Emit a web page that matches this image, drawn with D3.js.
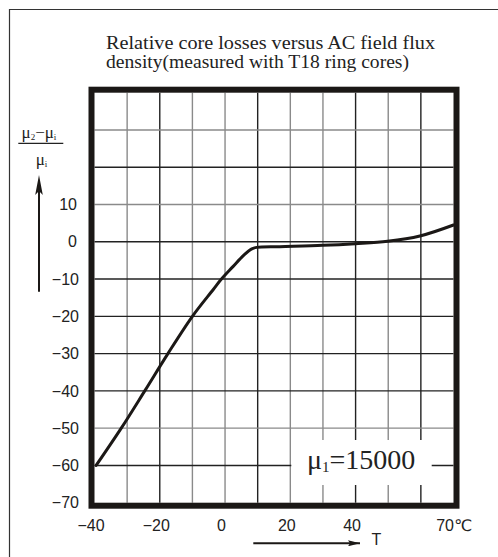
<!DOCTYPE html>
<html>
<head>
<meta charset="utf-8">
<script src="https://cdn.jsdelivr.net/npm/d3@7"></script>
<style>
  html, body { margin: 0; padding: 0; background: #fff; }
  svg { display: block; }
</style>
</head>
<body>
<svg id="chart" width="498" height="557"></svg>
<script>
// ---- data ----
const titleLines = ["Relative core losses versus AC field flux", "density(measured with T18 ring cores)"];
const xTicks = [-40, -20, 0, 20, 40, 70];
const yTicks = [10, 0, -10, -20, -30, -40, -50, -60, -70];
const xGridValues = [-30, -20, -10, 0, 10, 20, 30, 40, 50, 60];
const yGridValues = [30, 20, 10, 0, -10, -20, -30, -40, -50, -60];
const tempC =      [-39.5, -31.8, -24.6, -17.5, -10.0, -3.6, -1.3, 2.5, 5.6, 8.2, 9.7, 16.8, 29.9, 39.9, 49.8, 59.7, 70.0];
const relChange =  [-60.0, -50.0, -40.0, -30.0, -20.0, -12.8, -10.2, -6.6, -3.7, -1.9, -1.5, -1.3, -0.95, -0.5, 0.13, 1.55, 4.5];
const mu1Value = "15000";

// ---- chart ----
const svg = d3.select("#chart");
const x = d3.scaleLinear().domain([-40, 70]).range([94.5, 453.5]);
const y = d3.scaleLinear().domain([-70, 40]).range([502.7, 92.7]);

const ink = "#1b1816";
const greyLine = "#8a8a8a";
const darkLine = "#222";
const greyX = new Set([-30, -10, 0, 20, 30, 50]);
const greyY = new Set([30, 10, -50]);
const serif = "'Liberation Serif', 'Times New Roman', serif";
const sans = "'Liberation Sans', Arial, sans-serif";

// outer page border (left and top)
svg.append("path")
  .attr("d", "M9.5,557 V9.5 H498")
  .attr("fill", "none").attr("stroke", "#333").attr("stroke-width", 1.2);

// title
const titleWidths = [329, 303];
svg.append("g").selectAll("text").data(titleLines).join("text")
  .attr("x", 106).attr("y", (d, i) => 49.3 + i * 19)
  .attr("font-family", serif)
  .attr("font-size", 19.5).attr("fill", "#222")
  .attr("textLength", (d, i) => titleWidths[i])
  .attr("lengthAdjust", "spacingAndGlyphs")
  .text(d => d);

// grid
const grid = svg.append("g");
grid.selectAll("line.v").data(xGridValues).join("line").attr("class", "v")
  .attr("x1", d => x(d)).attr("x2", d => x(d))
  .attr("y1", y(40)).attr("y2", y(-70))
  .attr("stroke", d => greyX.has(d) ? greyLine : darkLine)
  .attr("stroke-width", 1.4);
grid.selectAll("line.h").data(yGridValues).join("line").attr("class", "h")
  .attr("x1", x(-40)).attr("x2", x(70))
  .attr("y1", d => y(d)).attr("y2", d => y(d))
  .attr("stroke", d => greyY.has(d) ? greyLine : darkLine)
  .attr("stroke-width", 1.4);

// mu1 label box (white knock-out)
svg.append("rect")
  .attr("x", x(20) + 1).attr("y", 440)
  .attr("width", 431.7 - x(20) - 1).attr("height", 45)
  .attr("fill", "#fff");
const mu = svg.append("text")
  .attr("x", 307).attr("y", 469.3)
  .attr("font-family", serif)
  .attr("font-size", 28).attr("fill", "#222");
mu.append("tspan").text("μ");
mu.append("tspan").attr("font-size", 15).attr("dy", 3).text("1");
mu.append("tspan").attr("dy", -3).text("=" + mu1Value);

// curve
const pts = tempC.map((t, i) => [t, relChange[i]]);
svg.append("path")
  .datum(pts)
  .attr("fill", "none").attr("stroke", ink).attr("stroke-width", 3)
  .attr("stroke-linecap", "round").attr("stroke-linejoin", "round")
  .attr("d", d3.line().x(d => x(d[0])).y(d => y(d[1])).curve(d3.curveCatmullRom.alpha(0.5)));

// thick frame
svg.append("rect")
  .attr("x", x(-40) - 3).attr("y", y(40) - 3)
  .attr("width", x(70) - x(-40) + 6).attr("height", y(-70) - y(40) + 6)
  .attr("fill", "none").attr("stroke", ink).attr("stroke-width", 6);

// y axis labels
const yAxis = svg.append("g").attr("transform", `translate(${x(-40)},0)`)
  .call(d3.axisLeft(y).tickValues(yTicks).tickSize(0).tickPadding(15.5));
yAxis.select(".domain").remove();
yAxis.selectAll("text")
  .attr("font-family", sans)
  .attr("font-size", 16).attr("fill", "#222")
  .attr("dx", d => d >= 0 ? -2 : 0);

// x axis labels
const xAxis = svg.append("g").attr("transform", `translate(0,${y(-70)})`)
  .call(d3.axisBottom(x).tickValues(xTicks).tickSize(0).tickPadding(16.6)
    .tickFormat(d => d === 70 ? "70℃" : d3.format("")(d)));
xAxis.select(".domain").remove();
xAxis.selectAll("text")
  .attr("font-family", "'Liberation Sans', 'DejaVu Sans', Arial, sans-serif")
  .attr("font-size", 16).attr("fill", "#222")
  .attr("dx", d => d === 70 ? 0 : -4);

// T arrow
svg.append("defs").append("marker")
  .attr("id", "ah").attr("viewBox", "0 0 12 6").attr("refX", 12).attr("refY", 3)
  .attr("markerWidth", 12).attr("markerHeight", 6).attr("markerUnits", "userSpaceOnUse")
  .attr("orient", "auto")
  .append("path").attr("d", "M0,0 L12,3 L0,6 L2,3 Z").attr("fill", ink);

svg.append("line")
  .attr("x1", 253.3).attr("x2", 360).attr("y1", 543.3).attr("y2", 543.3)
  .attr("stroke", ink).attr("stroke-width", 2).attr("marker-end", "url(#ah)");
svg.append("text").attr("x", 371.5).attr("y", 545)
  .attr("font-family", sans)
  .attr("font-size", 16).attr("fill", "#222").text("T");

// y-label arrow
svg.append("line")
  .attr("x1", 39).attr("x2", 39).attr("y1", 291.7).attr("y2", 185)
  .attr("stroke", ink).attr("stroke-width", 2);
svg.append("path").attr("d", "M39,175 L42.8,195 L39,191 L35.2,195 Z").attr("fill", ink);

// fraction label
const num = svg.append("text").attr("x", 21.5).attr("y", 137.7)
  .attr("font-family", serif).attr("font-size", 17).attr("fill", "#222");
num.append("tspan").text("μ");
num.append("tspan").attr("font-size", 9).attr("dy", 2).text("2");
num.append("tspan").attr("dy", -2).text("−μ");
num.append("tspan").attr("font-size", 9).attr("dy", 2).text("i");
svg.append("line").attr("x1", 18.3).attr("x2", 63.3).attr("y1", 143.3).attr("y2", 143.3)
  .attr("stroke", "#222").attr("stroke-width", 1.2);
const den = svg.append("text").attr("x", 35.7).attr("y", 165)
  .attr("font-family", serif).attr("font-size", 17).attr("fill", "#222");
den.append("tspan").text("μ");
den.append("tspan").attr("font-size", 9).attr("dy", 2).text("i");
</script>
</body>
</html>
